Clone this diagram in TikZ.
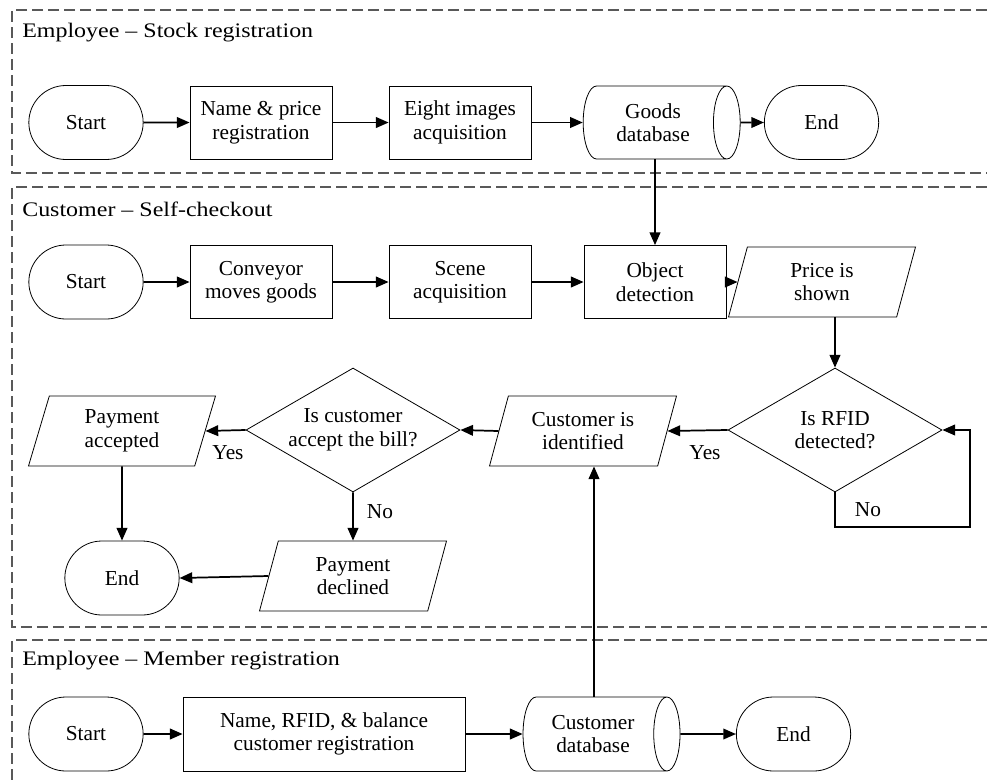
\documentclass[tikz,border=0pt]{standalone}
\usepackage{fontspec}
\setmainfont{Liberation Serif}
\newfontfamily\hdrfont{Liberation Serif}[FakeStretch=1.16]
\usetikzlibrary{shapes.geometric,shapes.misc,arrows.meta}
\begin{document}
\begin{tikzpicture}[x=0.75pt,y=-0.75pt,
  base/.style={draw=black, line width=0.6pt, fill=white, align=center, font=\fontsize{16}{17.6}\selectfont, inner sep=1pt},
  term/.style={base, rounded rectangle, minimum width=87.75pt, minimum height=55.5pt},
  proc/.style={base, rectangle, minimum width=106.5pt, minimum height=54.75pt},
  store/.style={base, cylinder, shape border rotate=0, aspect=0.65, minimum height=117.75pt, minimum width=54.75pt},
  io/.style={base, trapezium, trapezium left angle=65, trapezium right angle=115, trapezium stretches body=true, minimum width=140.25pt, minimum height=52.5pt},
  dec/.style={base, diamond, aspect=1.7, minimum width=160.5pt, minimum height=93pt, inner sep=0pt},
  conn/.style={line width=1.3pt, -{Triangle[length=9.5pt,width=8pt]}},
  lbl/.style={font=\fontsize{16}{17.6}\selectfont},
  hdr/.style={anchor=base west, inner sep=0pt, font=\hdrfont\fontsize{15.5}{18}\selectfont},
  panel/.style={draw=black!65, line width=1pt, dash pattern=on 8pt off 4pt}
]
\useasboundingbox (0,0) rectangle (987,782);

% panels
\draw[panel] (987,10) -| (12,173) -- (987,173);
\draw[panel] (987,187) -| (12,627) -- (987,627);
\draw[panel] (987,640) -| (12,782);

\node[hdr] (h1) at (22,37.5) {Employee – Stock registration};
\node[hdr] (h2) at (22,216) {Customer – Self-checkout};
\node[hdr] (h3) at (22,665) {Employee – Member registration};

% panel 1
\node[term] (s1) at (86,122.5) {Start};
\node[proc] (np) at (261,122.5) {Name \& price\\registration};
\node[proc] (ei) at (460,122.5) {Eight images\\acquisition};
\node[store] (gdb) at (653,122.5) {Goods\\database};
\node[term] (e1) at (821.5,122.5) {End};

% panel 2
\node[term] (s2) at (86,282) {Start};
\node[proc] (cm) at (261,282) {Conveyor\\moves goods};
\node[proc] (sa) at (460,282) {Scene\\acquisition};
\node[proc] (od) at (655,282) {Object\\detection};
\node[io] (pr) at (822,282) {Price is\\shown};
\node[dec] (rfid) at (835,430) {Is RFID\\detected?};
\node[io] (ci) at (583,431) {Customer is\\identified};
\node[dec] (acc) at (353,430) {Is customer\\accept the bill?};
\node[io] (pa) at (122,431) {Payment\\accepted};
\node[term] (end2) at (122,578) {End};
\node[io] (pd) at (353,576) {Payment\\declined};
\coordinate (loopc) at (970,527);

% panel 3
\node[term] (s3) at (86,734) {Start};
\node[proc, minimum width=211.5pt, minimum height=55.5pt] (nr) at (324,734) {Name, RFID, \& balance\\customer registration};
\node[store, minimum width=55.5pt] (cdb) at (593,734) {Customer\\database};
\node[term] (e3) at (793.5,734) {End};
\coordinate (cup) at (594,700);

% connectors
\draw[conn] (s1) -- (np);
\draw[conn] (np) -- (ei);
\draw[conn] (ei) -- (gdb);
\draw[conn] (gdb) -- (e1);
\draw[conn] (od.north |- gdb.south) -- (od.north);

\draw[conn] (s2) -- (cm);
\draw[conn] (cm) -- (sa);
\draw[conn] (sa) -- (od);
\draw[conn] (od) -- (pr);
\draw[conn] (rfid.north |- pr.south) -- (rfid.north);
\draw[conn] (rfid.south) |- (loopc) |- (rfid.east);
\node[lbl] (no1) at (868,510) {No};
\draw[conn] (rfid.west) -- (ci.east);
\node[lbl] (yes1) at (705,453) {Yes};
\draw[conn] (ci.west) -- (acc.east);
\draw[conn] (acc.west) -- (pa.east);
\node[lbl] (yes2) at (228,453) {Yes};
\draw[conn] (pa.south) -- (end2.north);
\draw[conn] (acc.south) -- (pd.north);
\node[lbl] (no2) at (380,512) {No};
\draw[conn] (pd.west) -- (end2.east);

\draw[conn] (s3) -- (nr);
\draw[conn] (nr) -- (cdb);
\draw[conn] (cdb) -- (e3);
\draw[conn] (cup |- cdb.north) -- (cup |- ci.south);
\end{tikzpicture}
\end{document}
